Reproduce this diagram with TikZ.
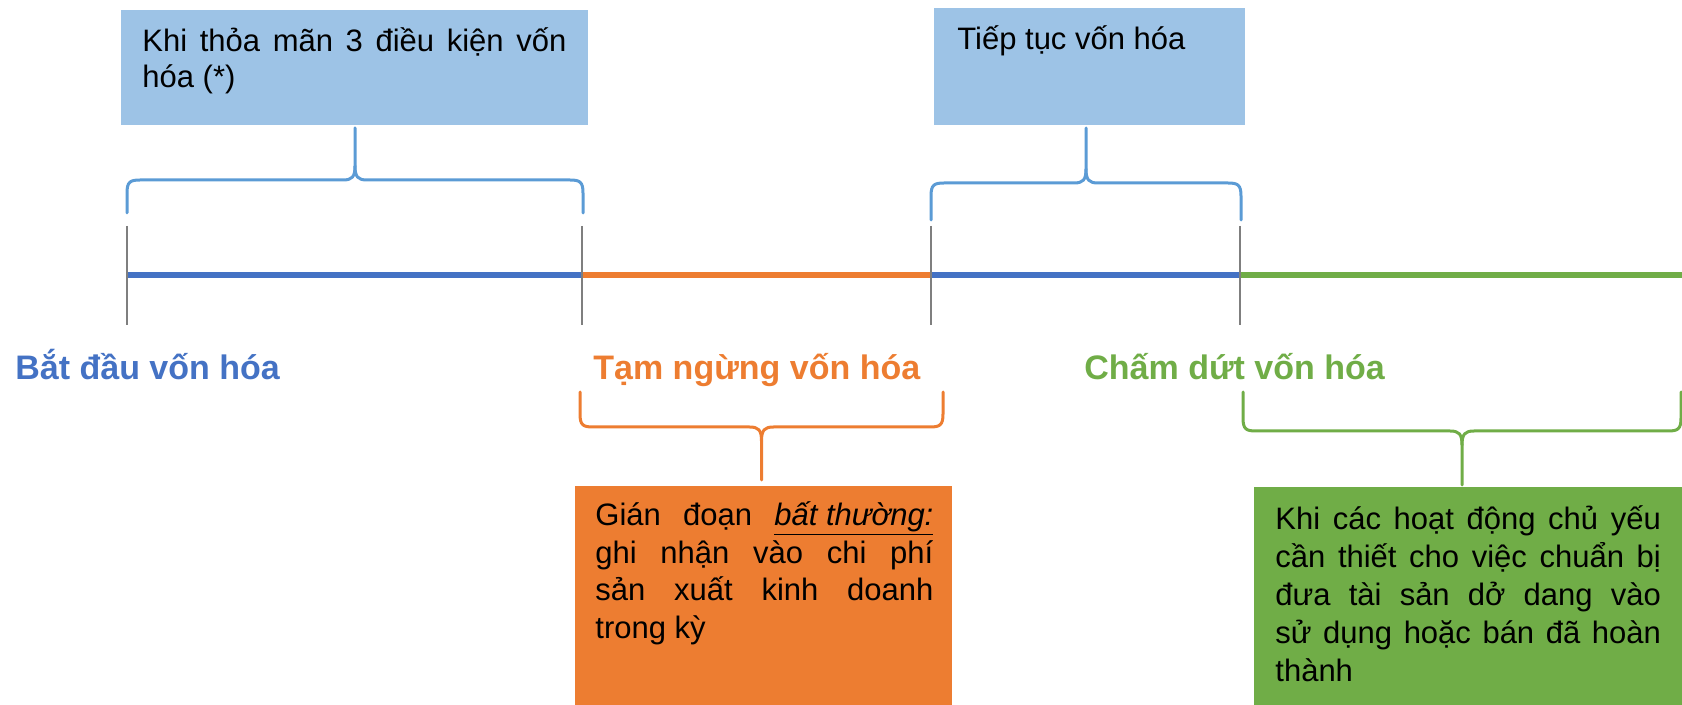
\documentclass[tikz,border=0pt]{standalone}
\usepackage{fontspec}
\setmainfont{Liberation Sans}
\hyphenpenalty=10000
\exhyphenpenalty=10000
\definecolor{boxblue}{HTML}{9DC3E6}
\definecolor{lineblue}{HTML}{4472C4}
\definecolor{braceblue}{HTML}{5B9BD5}
\definecolor{accorange}{HTML}{ED7D31}
\definecolor{accgreen}{HTML}{70AD47}
\definecolor{tickgray}{HTML}{7F7F7F}

% Curly brace: #1 left x, #2 right x, #3 y of the ends, #4 y of the bar, #5 y of the tip, #6 style
\newcommand\curlybrace[6]{%
  \pgfmathsetmacro\brXc{(#1+#2)/2}%
  \pgfmathsetmacro\brS{(#5<#4) ? -1 : 1}%
  \draw[#6] (#1,#3) -- (#1,{#4-\brS*13}) .. controls (#1,{#4-\brS*2}) and ({#1+3},#4) .. ({#1+13},#4)
     -- ({\brXc-12},#4) .. controls ({\brXc-3},#4) and (\brXc,{#4+\brS*3}) .. (\brXc,{#4+\brS*14}) -- (\brXc,#5);
  \draw[#6] (#2,#3) -- (#2,{#4-\brS*13}) .. controls (#2,{#4-\brS*2}) and ({#2-3},#4) .. ({#2-13},#4)
     -- ({\brXc+12},#4) .. controls ({\brXc+3},#4) and (\brXc,{#4+\brS*3}) .. (\brXc,{#4+\brS*14});
}

\begin{document}
\begin{tikzpicture}[x=0.5pt,y=-0.5pt,
  panel/.style={draw=none,inner sep=0,anchor=north west},
  bodytext/.style={inner sep=0,anchor=base west,align=justify,
    font=\fontsize{15.5}{19}\selectfont},
  phase/.style={inner sep=0,anchor=base west,font=\fontsize{17}{20}\selectfont\bfseries},
  timeline/.style={line width=3pt},
  tick/.style={draw=tickgray,line width=0.75pt},
  bracestyle/.style={line width=1.5pt,line cap=round,line join=round}]

\useasboundingbox (0,0) rectangle (1682,705);

% boxes
\node[panel,fill=boxblue,minimum width=233.5pt,minimum height=57.5pt] (b1) at (121,10) {};
\node[panel,fill=boxblue,minimum width=155.5pt,minimum height=58.5pt] (b2) at (934,8) {};
\node[panel,fill=accorange,minimum width=188.5pt,minimum height=109.5pt] (b3) at (575,486) {};
\node[panel,fill=accgreen,minimum width=214pt,minimum height=109pt] (b4) at (1254,487) {};

% box texts
\node[bodytext,text width=212pt,font=\fontsize{15.5}{18}\selectfont] (t1) at (142,52)
  {Khi thỏa mãn 3 điều kiện vốn\linebreak hóa (*)};
\node[bodytext] (t2) at (957,50) {Tiếp tục vốn hóa};
\node[bodytext,text width=169pt] (t3) at (595,525)
  {Gián đoạn \underline{\textit{bất thường:}}\linebreak ghi nhận vào chi phí\linebreak sản xuất kinh doanh\linebreak trong kỳ};
\node[bodytext,text width=192.75pt] (t4) at (1275,530)
  {Khi các hoạt động chủ yếu\linebreak cần thiết cho việc chuẩn bị\linebreak đưa tài sản dở dang vào\linebreak sử dụng hoặc bán đã hoàn\linebreak thành};

% timeline points
\coordinate (p0) at (127,275.5);
\coordinate (p1) at (582,275.5);
\coordinate (p2) at (931,275.5);
\coordinate (p3) at (1240,275.5);
\coordinate (p4) at (1682,275.5);

\draw[timeline,lineblue] (p0) -- (p1);
\draw[timeline,accorange] (p1) -- (p2);
\draw[timeline,lineblue] (p2) -- (p3);
\draw[timeline,accgreen] (p3) -- (p4);

\foreach \p in {p0,p1,p2,p3}
  \draw[tick] ([yshift=24.75pt]\p) -- ([yshift=-24.75pt]\p);

% phase labels
\node[phase,text=lineblue] (l1) at (15,380) {Bắt đầu vốn hóa};
\node[phase,text=accorange] (l2) at (593,380) {Tạm ngừng vốn hóa};
\node[phase,text=accgreen] (l3) at (1084,380) {Chấm dứt vốn hóa};

% braces
\curlybrace{127}{583}{213}{180}{128}{bracestyle,draw=braceblue}
\curlybrace{931}{1241}{220}{183}{128}{bracestyle,draw=braceblue}
\curlybrace{580}{943}{392}{427}{480}{bracestyle,draw=accorange}
\curlybrace{1243}{1681}{392}{431}{485}{bracestyle,draw=accgreen}
\end{tikzpicture}
\end{document}
